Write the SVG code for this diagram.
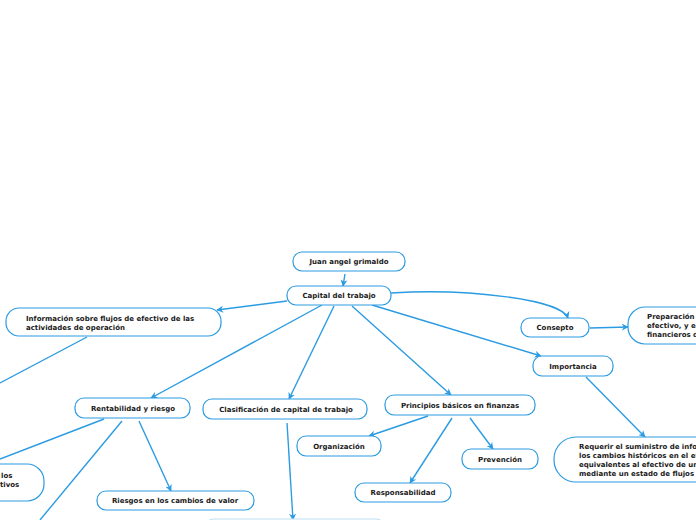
<svg xmlns="http://www.w3.org/2000/svg" width="696" height="520" viewBox="0 0 696 520">
<defs>
<style>
.n{fill:#fff;stroke:#2b9be2;stroke-width:1.2}
.t{font-family:"DejaVu Sans",Verdana,sans-serif;font-weight:bold;font-size:7px;fill:#1a1a1a}
.c{text-anchor:middle}
.e{fill:none;stroke:#2b9be2;stroke-width:1.4}
</style>
<marker id="a" viewBox="0 0 10 10" refX="9" refY="5" markerWidth="7" markerHeight="7" orient="auto" markerUnits="userSpaceOnUse">
<path d="M0,0 L10,5 L0,10 L3,5 Z" fill="#2b9be2"/>
</marker>
</defs>
<rect width="696" height="520" fill="#fff"/>
<g id="connectors">
<path class="e" d="M345,274 L343,286" marker-end="url(#a)"/>
<path class="e" d="M287,301 L217,310" marker-end="url(#a)"/>
<path class="e" d="M391,293 C470,288 562,300 568,318" marker-end="url(#a)"/>
<path class="e" d="M372,305 L541,356" marker-end="url(#a)"/>
<path class="e" d="M322,305 L151,398" marker-end="url(#a)"/>
<path class="e" d="M334,306 L289,399" marker-end="url(#a)"/>
<path class="e" d="M352,306 L451,395" marker-end="url(#a)"/>
<path class="e" d="M87,337 L0,383"/>
<path class="e" d="M590,328 L628,327" marker-end="url(#a)"/>
<path class="e" d="M586,377 L645,437" marker-end="url(#a)"/>
<path class="e" d="M104,419 L0,459"/>
<path class="e" d="M122,421 L40,520"/>
<path class="e" d="M139,421 L171,491" marker-end="url(#a)"/>
<path class="e" d="M287,423 L293,520" marker-end="url(#a)"/>
<path class="e" d="M428,416 L369,436" marker-end="url(#a)"/>
<path class="e" d="M452,418 L410,483" marker-end="url(#a)"/>
<path class="e" d="M470,418 L493,449" marker-end="url(#a)"/>
</g>
<g id="n1"><rect class="n" x="293" y="252" width="112" height="19" rx="9"/><text class="t c" x="349" y="263.5">Juan angel grimaldo</text></g>
<g id="n2"><rect class="n" x="287" y="286" width="104" height="19" rx="9"/><text class="t c" x="339" y="297.5">Capital del trabajo</text></g>
<g id="n3"><rect class="n" x="6" y="308" width="215" height="28" rx="13"/><text class="t" x="26" y="320.5">Información sobre flujos de efectivo de las</text><text class="t" x="26" y="329.5">actividades de operación</text></g>
<g id="n4"><rect class="n" x="521" y="318" width="68" height="19" rx="9"/><text class="t c" x="555" y="330">Consepto</text></g>
<g id="n5"><rect class="n" x="628" y="307" width="110" height="37" rx="17"/><text class="t" x="647" y="319">Preparación</text><text class="t" x="647" y="328">efectivo, y e</text><text class="t" x="647" y="337">financieros d</text></g>
<g id="n6"><rect class="n" x="533" y="356" width="80" height="20" rx="9"/><text class="t c" x="573" y="368.5">Importancia</text></g>
<g id="n7"><rect class="n" x="75" y="398" width="115" height="20" rx="9"/><text class="t c" x="133" y="410.5">Rentabilidad y riesgo</text></g>
<g id="n8"><rect class="n" x="203" y="399" width="164" height="20" rx="9"/><text class="t c" x="286" y="411.5">Clasificación de capital de trabajo</text></g>
<g id="n9"><rect class="n" x="385" y="395" width="150" height="20" rx="9"/><text class="t c" x="460" y="407.5">Principios básicos en finanzas</text></g>
<g id="n10"><rect class="n" x="297" y="436" width="84" height="20" rx="9"/><text class="t c" x="339" y="448.5">Organización</text></g>
<g id="n11"><rect class="n" x="462" y="449" width="76" height="20" rx="9"/><text class="t c" x="500" y="461.5">Prevención</text></g>
<g id="n12"><rect class="n" x="355" y="483" width="96" height="19" rx="9"/><text class="t c" x="403" y="495">Responsabilidad</text></g>
<g id="n13"><rect class="n" x="554" y="437" width="180" height="45" rx="22"/><text class="t" x="579" y="449">Requerir el suministro de info</text><text class="t" x="579" y="458">los cambios históricos en el ef</text><text class="t" x="579" y="467">equivalentes al efectivo de un</text><text class="t" x="579" y="476">mediante un estado de flujos d</text></g>
<g id="n14"><rect class="n" x="-40" y="464" width="84" height="37" rx="17"/><text class="t" x="1" y="478">los</text><text class="t" x="0" y="487">tivos</text></g>
<g id="n15"><rect class="n" x="97" y="491" width="157" height="19" rx="9"/><text class="t c" x="175" y="503">Riesgos en los cambios de valor</text></g>
<g id="n16"><rect x="205" y="519" width="180" height="20" rx="9" fill="#fff" stroke="#bfe0f6" stroke-width="1.2"/></g>
</svg>
